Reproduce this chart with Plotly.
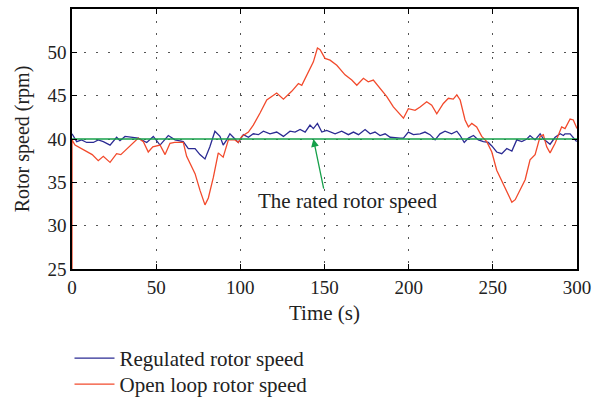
import plotly.graph_objects as go

# Time (s) / rotor speed (rpm) pairs
regulated = [(0, 40.6), (2.8, 39.7), (5.7, 39.9), (8.7, 39.6), (12.7, 39.6), (15.6, 39.9), (18.6, 39.7),
             (22.6, 39.3), (26.5, 40.2), (28.5, 39.8), (31.5, 40.3), (35.5, 40.2), (39.4, 40.1), (44.4, 39.6),
             (48.3, 40.3), (52.3, 39.3), (57.2, 40.4), (61.2, 39.9), (66.1, 39.7), (69.1, 38.9), (73.1, 38.9),
             (76, 38.2), (79, 37.7), (81.9, 39.1), (84.9, 40.9), (87.9, 40.3), (89.8, 39.3), (91.9, 39.9),
             (93.8, 40.6), (95.8, 40.2), (98.8, 39.6), (101.8, 40.5), (104.8, 40.2), (107.7, 40.6), (110.7, 40.5),
             (113.7, 40.9), (117.6, 40.6), (121.6, 40.8), (125.6, 40.3), (129.5, 40.9), (132.5, 40.8), (135.5, 41.1),
             (138.5, 40.8), (141.4, 41.6), (143.4, 41.2), (145.8, 41.8), (148.4, 40.8), (151.3, 41.0), (156.3, 40.6),
             (160.2, 40.9), (164.2, 40.5), (167.2, 40.8), (170.2, 40.5), (174.1, 41.1), (177.1, 40.6), (180, 40.8),
             (183, 40.4), (186, 40.6), (189, 40.2), (194.9, 40.1), (196.9, 40.1), (199.8, 40.8), (202.8, 40.5),
             (206.8, 40.6), (209.7, 40.8), (212.7, 40.5), (215.7, 39.9), (218.6, 40.6), (221.6, 40.9), (225.5, 40.6),
             (228.6, 40.9), (230.6, 40.4), (233, 39.6), (235.5, 40.1), (238.5, 40.4), (241.4, 39.9), (244.4, 39.7),
             (247.3, 39.6), (249.4, 39.2), (252.3, 38.5), (255.3, 38.3), (258.3, 38.9), (261.3, 38.6), (264.2, 39.9),
             (267.2, 39.7), (270.2, 40.0), (272.1, 40.4), (275.1, 39.9), (278.1, 40.6), (280.1, 40.0), (284, 39.4),
             (287, 40.2), (290, 40.6), (291.9, 40.4), (292.9, 40.6), (295.9, 40.6), (299.8, 39.7)]

open_loop = [(0, 25), (0, 39.9), (1.8, 39.3), (7.7, 38.7), (12, 38.2), (15.6, 37.5), (18.6, 38.0), (22.6, 37.3),
             (26.5, 38.3), (29, 38.2), (34.5, 39.2), (39.4, 40.1), (42.4, 39.7), (45.3, 38.5), (48, 39.1),
             (52.3, 39.3), (55.3, 38.2), (58.2, 39.5), (61, 39.6), (66.1, 39.6), (68.1, 38.0), (73.1, 36.0),
             (76, 34.1), (79, 32.4), (81, 33.2), (84, 35.6), (86.9, 38.4), (89.8, 37.9), (92.9, 39.9), (96.8, 39.9),
             (98.8, 39.6), (100.8, 40.3), (104.8, 40.8), (107.7, 41.6), (111.7, 43.0), (115.7, 44.5), (121.6, 45.3),
             (125.6, 44.6), (130.5, 45.5), (134.5, 46.4), (136.5, 46.2), (140.4, 47.8), (143.4, 48.9), (145.8, 50.5),
             (147.4, 50.3), (150.3, 49.3), (153.3, 49.1), (157.3, 48.5), (162.2, 47.4), (166.2, 46.8), (169.2, 46.2),
             (173.1, 47.0), (176, 46.6), (179, 46.8), (183, 45.8), (187, 44.9), (190.9, 43.7), (194.9, 42.8),
             (196.9, 42.4), (199.8, 43.5), (203.8, 43.3), (206.8, 43.7), (210.7, 44.3), (213.7, 43.9), (216.7, 42.9),
             (220.6, 44.1), (223.6, 44.7), (226.5, 44.6), (228.6, 45.1), (230.6, 44.5), (233.5, 42.2), (235.5, 41.4),
             (237.5, 41.8), (240.4, 41.4), (243.4, 40.3), (246.4, 39.7), (249.4, 38.5), (252.3, 36.4), (255.3, 35.1),
             (258.3, 33.9), (261.3, 32.7), (263.3, 33.0), (266.2, 34.1), (269.2, 35.3), (272.1, 37.6), (275.1, 38.2),
             (278.1, 40.3), (280, 40.5), (282, 39.1), (284, 38.4), (287, 39.5), (288.9, 40.5), (290.9, 41.4),
             (292.9, 41.2), (295.9, 42.3), (297.8, 42.2), (300, 41.2)]

rated_t = [0, 300]
rated_v = [40, 40]

x_ticks = [0, 50, 100, 150, 200, 250, 300]
y_ticks = [25, 30, 35, 40, 45, 50, 55]

FONT = "Liberation Serif"
TXT = "#222222"
BLUE = "#2b2b93"
RED = "#f24a2c"
GREEN = "#16a04a"

fig = go.Figure()
fig.add_trace(go.Scatter(x=[p[0] for p in regulated], y=[p[1] for p in regulated], mode="lines",
                         line=dict(color=BLUE, width=1.3), name="Regulated rotor speed", legend="legend"))
fig.add_trace(go.Scatter(x=[p[0] for p in open_loop], y=[p[1] for p in open_loop], mode="lines",
                         line=dict(color=RED, width=1.3), name="Open loop rotor speed", legend="legend2"))
fig.add_trace(go.Scatter(x=rated_t, y=rated_v, mode="lines", line=dict(color=GREEN, width=1.5),
                         showlegend=False))

fig.add_annotation(x=143.4, y=40.0, ax=149.7, ay=34.1, xref="x", yref="y", axref="x", ayref="y",
                   text="", showarrow=True, arrowhead=2, arrowsize=1.2, arrowwidth=1.3, arrowcolor=GREEN)
fig.add_annotation(x=163.7, y=32.8, xref="x", yref="y", text="The rated rotor speed", showarrow=False,
                   font=dict(family=FONT, size=21, color=TXT))

axis_common = dict(showline=True, linecolor="black", linewidth=1.5, mirror="ticks", ticks="inside",
                   ticklen=5, tickcolor="black", showgrid=True, gridcolor="#555", gridwidth=1,
                   griddash="2px,10px", zeroline=False, tickfont=dict(family=FONT, size=19, color=TXT))

fig.update_xaxes(range=[0, 300], tickvals=x_ticks, title=dict(text="Time (s)", standoff=9,
                 font=dict(family=FONT, size=21, color=TXT)), **axis_common)
fig.update_yaxes(range=[25, 55], tickvals=y_ticks, title=dict(text="Rotor speed (rpm)", standoff=12,
                 font=dict(family=FONT, size=20, color=TXT)), **axis_common)

legend_style = dict(x=-2.5 / 505, xanchor="left", yanchor="top", bgcolor="rgba(0,0,0,0)",
                    font=dict(family=FONT, size=21, color=TXT), itemwidth=40)

fig.update_layout(width=592, height=402, margin=dict(l=72, r=15, t=9, b=133, autoexpand=False),
                  paper_bgcolor="white", plot_bgcolor="white",
                  font=dict(family=FONT, size=19, color=TXT),
                  legend=dict(y=-0.265, **legend_style),
                  legend2=dict(y=-0.365, **legend_style))

fig.write_html("out.html")
